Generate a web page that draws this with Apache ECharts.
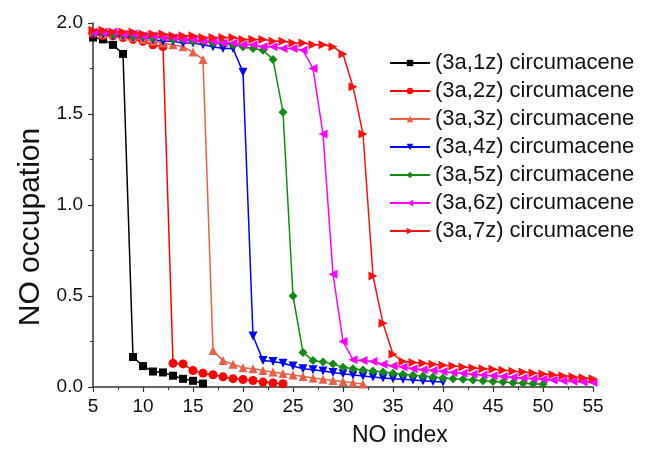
<!DOCTYPE html>
<html>
<head>
<meta charset="utf-8">
<script src="https://cdn.jsdelivr.net/npm/echarts@6/dist/echarts.min.js"></script>
<style>html,body{margin:0;padding:0;background:#fff}#c{width:649px;height:452px}</style>
</head>
<body>
<div id="c"></div>
<script>
const noIndex = [5,6,7,8,9,10,11,12,13,14,15,16,17,18,19,20,21,22,23,24,25,26,27,28,29,30,31,32,33,34,35,36,37,38,39,40,41,42,43,44,45,46,47,48,49,50,51,52,53,54,55];
const seriesNames = ['(3a,1z) circumacene','(3a,2z) circumacene','(3a,3z) circumacene','(3a,4z) circumacene','(3a,5z) circumacene','(3a,6z) circumacene','(3a,7z) circumacene'];
const occ1z = [1.92,1.91,1.88,1.83,0.165,0.115,0.085,0.08,0.062,0.045,0.034,0.019];
const occ2z = [1.94,1.93,1.93,1.92,1.91,1.90,1.88,1.87,0.13,0.127,0.09,0.076,0.067,0.056,0.046,0.041,0.036,0.027,0.022,0.018];
const occ3z = [1.95,1.94,1.94,1.93,1.92,1.91,1.90,1.89,1.88,1.87,1.84,1.80,0.20,0.145,0.125,0.106,0.10,0.09,0.082,0.074,0.066,0.058,0.05,0.043,0.036,0.03,0.023,0.017];
const occ4z = [1.94,1.94,1.93,1.93,1.92,1.92,1.91,1.90,1.90,1.89,1.89,1.88,1.87,1.86,1.86,1.73,0.28,0.145,0.14,0.13,0.115,0.10,0.095,0.088,0.08,0.073,0.066,0.06,0.055,0.05,0.045,0.042,0.038,0.034,0.03,0.027];
const occ5z = [1.95,1.95,1.94,1.94,1.93,1.93,1.92,1.92,1.91,1.91,1.90,1.90,1.89,1.89,1.88,1.87,1.86,1.85,1.80,1.51,0.50,0.19,0.145,0.138,0.127,0.108,0.10,0.094,0.088,0.082,0.076,0.07,0.065,0.06,0.055,0.05,0.046,0.042,0.038,0.034,0.03,0.027,0.024,0.021,0.018,0.015];
const occ6z = [1.95,1.95,1.95,1.94,1.94,1.93,1.93,1.92,1.92,1.91,1.91,1.90,1.90,1.89,1.89,1.88,1.88,1.87,1.87,1.86,1.86,1.85,1.75,1.39,0.62,0.25,0.15,0.145,0.14,0.125,0.115,0.11,0.10,0.095,0.09,0.085,0.08,0.075,0.07,0.066,0.062,0.058,0.054,0.05,0.046,0.042,0.038,0.035,0.032,0.028,0.025];
const occ7z = [1.96,1.96,1.95,1.95,1.95,1.94,1.94,1.94,1.93,1.93,1.93,1.92,1.92,1.92,1.92,1.91,1.91,1.91,1.90,1.90,1.89,1.89,1.88,1.88,1.87,1.83,1.65,1.39,0.61,0.35,0.18,0.14,0.135,0.13,0.125,0.12,0.115,0.11,0.105,0.10,0.097,0.092,0.087,0.082,0.077,0.072,0.067,0.062,0.057,0.051,0.045];
const xTicks = [5,10,15,20,25,30,35,40,45,50,55];
const yTicks = ['0.0','0.5','1.0','1.5','2.0'];

const allOcc = [occ1z,occ2z,occ3z,occ4z,occ5z,occ6z,occ7z];
const colors = ['#000000','#ff0000','#e8604a','#0000ff','#138a13','#ff00ff','#ff1010'];
const symbols = ['rect','circle','triangle','triangle','diamond','triangle','triangle'];
const rotations = [0,0,0,180,0,90,-90];
const sizes = [8,9,9,9,9,9,9];
const FONT = 'Liberation Sans, Arial, sans-serif';

const chart = echarts.init(document.getElementById('c'), null, {renderer:'canvas'});
chart.setOption({
  animation:false,
  backgroundColor:'#fff',
  color: colors,
  grid:{left:93,right:56,top:23,bottom:62,containLabel:false},
  legend:{
    orient:'vertical', left:384, top:47,
    itemWidth:40, itemHeight:8, itemGap:6,
    textStyle:{fontFamily:FONT,fontSize:22,color:'#111',lineHeight:22},
    data: seriesNames
  },
  xAxis:{
    type:'value', min:5, max:55, interval:5,
    name:'NO index', nameLocation:'middle', nameGap:37,
    nameTextStyle:{fontFamily:FONT,fontSize:23,color:'#111',align:'left',padding:[0,0,0,9]},
    axisLine:{lineStyle:{color:'#333',width:1.5}},
    axisTick:{show:true,inside:false,length:5,lineStyle:{color:'#333',width:1.2}},
    minorTick:{show:true,splitNumber:2,length:3,lineStyle:{color:'#333'}},
    splitLine:{show:false},
    axisLabel:{fontFamily:FONT,fontSize:19,color:'#111',margin:10,
      formatter:function(v){return xTicks.indexOf(v)>=0?String(v):'';}}
  },
  yAxis:{
    type:'value', min:0, max:2, interval:0.5,
    name:'NO occupation', nameLocation:'middle', nameGap:46, nameRotate:90,
    nameTextStyle:{fontFamily:FONT,fontSize:30,color:'#111',padding:[0,44,0,0]},
    axisLine:{show:true,lineStyle:{color:'#333',width:1.5}},
    axisTick:{show:true,inside:false,length:5,lineStyle:{color:'#333',width:1.2}},
    minorTick:{show:true,splitNumber:2,length:3,lineStyle:{color:'#333'}},
    splitLine:{show:false},
    axisLabel:{fontFamily:FONT,fontSize:19,color:'#111',margin:10,
      formatter:function(v){return yTicks[Math.round(v/0.5)];}}
  },
  series: allOcc.map(function(vals,k){
    return {
      name: seriesNames[k], type:'line',
      data: vals.map(function(v,i){return [noIndex[i], v];}),
      symbol: symbols[k], symbolSize: sizes[k], symbolRotate: rotations[k],
      showAllSymbol:true,
      lineStyle:{color:colors[k],width:1.5},
      itemStyle:{color:colors[k]},
      z: 2+k
    };
  })
});
</script>
</body>
</html>
